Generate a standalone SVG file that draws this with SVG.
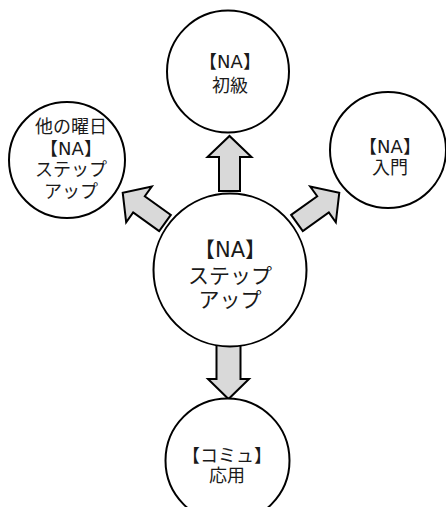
<svg xmlns="http://www.w3.org/2000/svg" width="446" height="507" viewBox="0 0 446 507">
<style>
.node circle{fill:#fff;stroke:#000;stroke-width:2}
.node text{font-family:"DejaVu Sans","Noto Sans CJK JP",sans-serif;font-size:18px;fill:#1a1a1a;text-anchor:middle}
.node.main text{font-size:21px}
.arrow{fill:#d9d9d9;stroke:#000;stroke-width:2;stroke-linejoin:miter}
</style>
<rect width="446" height="507" fill="#fff"/>
<g id="connectors">
<polygon class="arrow" transform="translate(229.5,191) rotate(-90)" points="0,-10.5 34,-10.5 34,-22 55,0 34,22 34,10.5 0,10.5"/>
<polygon class="arrow" transform="translate(228.5,345) rotate(90)" points="0,-12 34,-12 34,-20.5 54,0 34,20.5 34,12 0,12"/>
<polygon class="arrow" transform="translate(165,223) rotate(215.6)" points="0,-10 32,-10 32,-22 52,0 32,22 32,10 0,10"/>
<polygon class="arrow" transform="translate(297,223) rotate(-35.6)" points="0,-10 32,-10 32,-22 52,0 32,22 32,10 0,10"/>
</g>
<g id="node-main" class="node main">
<circle cx="230" cy="270" r="76.5"/>
<text x="230" y="257">【NA】</text>
<text x="230" y="283">ステップ</text>
<text x="230" y="307">アップ</text>
</g>
<g id="node-top" class="node">
<circle cx="228" cy="71.5" r="61"/>
<text x="230" y="68">【NA】</text>
<text x="230" y="92">初級</text>
</g>
<g id="node-left" class="node">
<circle cx="67" cy="160" r="58"/>
<text x="71" y="133">他の曜日</text>
<text x="71" y="154.5">【NA】</text>
<text x="71" y="176">ステップ</text>
<text x="71" y="197.5">アップ</text>
</g>
<g id="node-right" class="node">
<circle cx="388" cy="150" r="58"/>
<text x="390" y="153">【NA】</text>
<text x="390" y="174">入門</text>
</g>
<g id="node-bottom" class="node">
<circle cx="227.5" cy="460.5" r="62"/>
<text x="227" y="462">【コミュ】</text>
<text x="227" y="482">応用</text>
</g>
</svg>
